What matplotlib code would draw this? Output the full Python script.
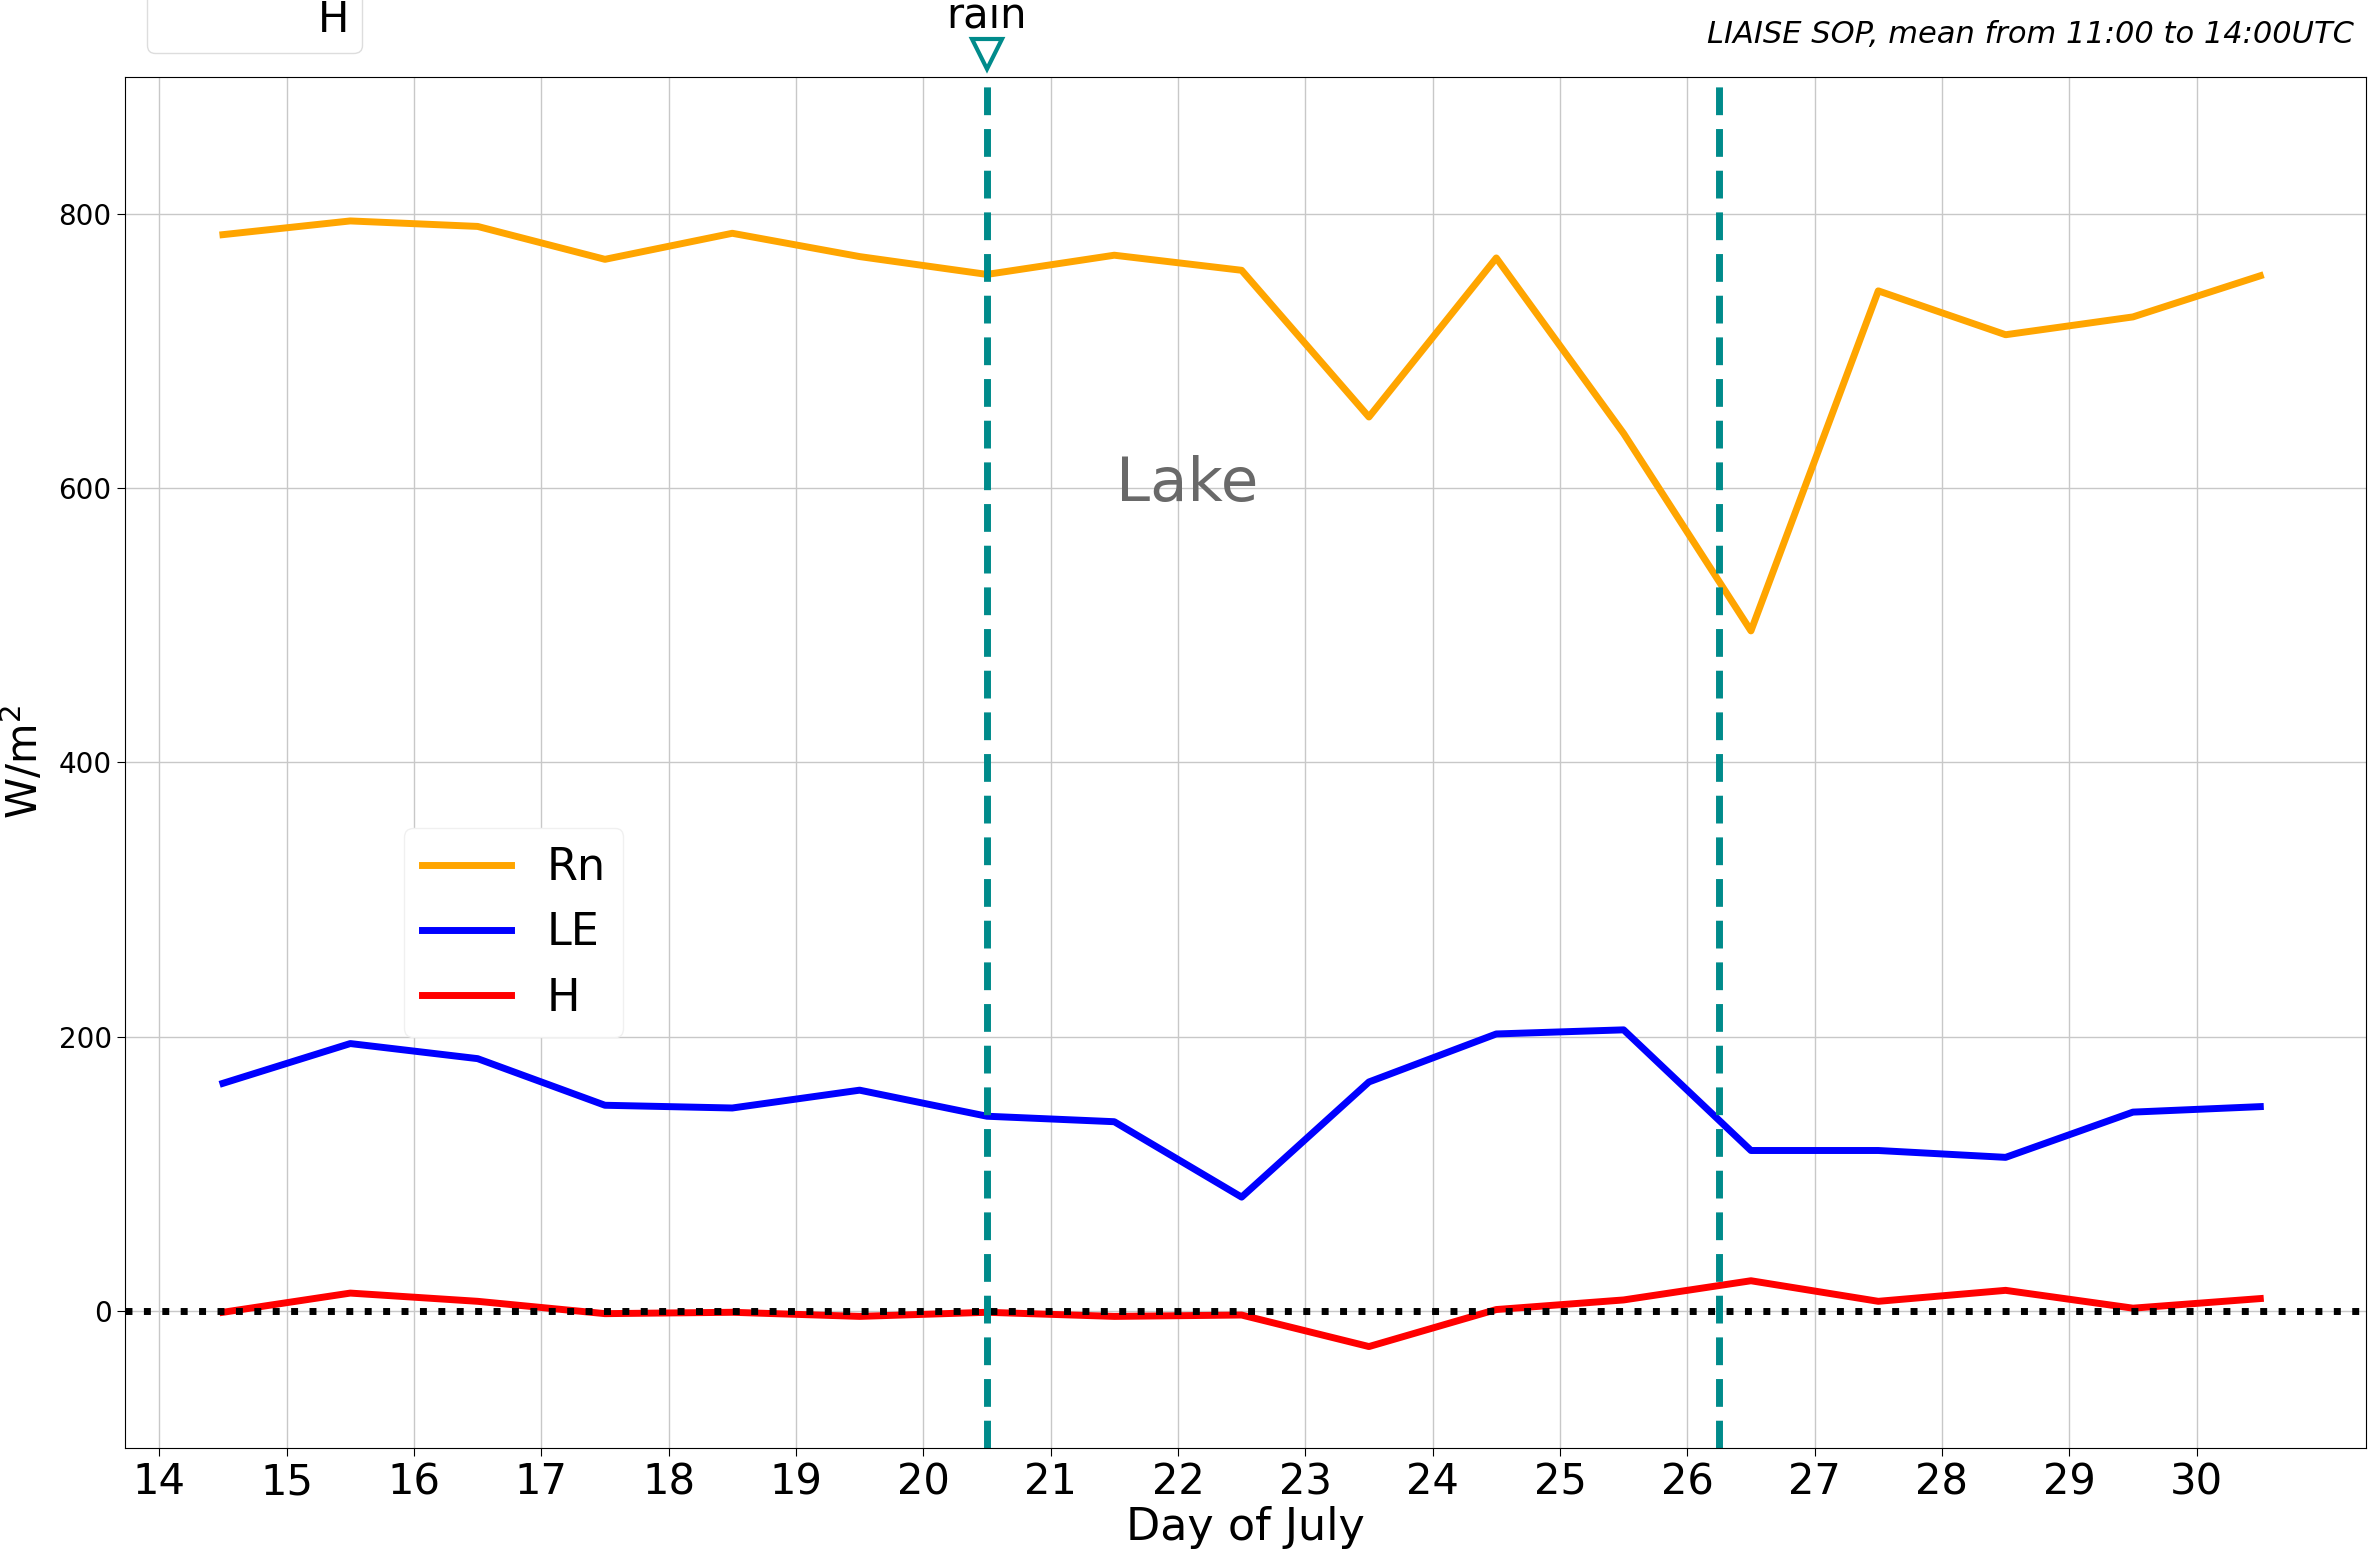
import matplotlib
matplotlib.use("Agg")
import matplotlib.pyplot as plt
from matplotlib.lines import Line2D

# Daily means (11:00-14:00 UTC) of surface energy fluxes over the lake, W/m2
days = [14.5, 15.5, 16.5, 17.5, 18.5, 19.5, 20.5, 21.5, 22.5,
        23.5, 24.5, 25.5, 26.5, 27.5, 28.5, 29.5, 30.5]
rn = [785, 795, 791, 767, 786, 769, 756, 770, 759,
      652, 768, 640, 496, 744, 712, 725, 755]
le = [166, 195, 184, 150, 148, 161, 142, 138, 83,
      167, 202, 205, 117, 117, 112, 145, 149]
h = [-1, 13, 7, -2, -1, -4, -1, -4, -3,
     -26, 1, 8, 22, 7, 15, 2, 9]
rain_days = [20.5, 26.25]
xticks = list(range(14, 31))
yticks = [0, 200, 400, 600, 800]

teal = "#008B8B"

fig = plt.figure(figsize=(23.7, 15.52), dpi=100)
ax = fig.add_axes([0.0527, 0.067, 0.9456, 0.8834])

ax.plot(days, rn, color="orange", lw=5, label="Rn")
ax.plot(days, le, color="blue", lw=5, label="LE")
ax.plot(days, h, color="red", lw=5, label="H")

ax.axhline(0, color="black", ls=":", lw=5)
for d in rain_days:
    ax.axvline(d, color=teal, ls="--", lw=5, dashes=(4, 2))

# rain marker and label above the axes
ax.plot([rain_days[0]], [917], marker="v", ms=22, mfc="white", mec=teal,
        mew=3, clip_on=False, ls="none")
ax.text(rain_days[0], 936, "rain", ha="center", va="baseline", fontsize=30,
        clip_on=False)

ax.text(22.07, 603, "Lake", ha="center", va="center", fontsize=44,
        color="dimgray")

ax.set_xlim(13.73, 31.33)
ax.set_ylim(-100, 900)
ax.set_xticks(xticks)
ax.set_yticks(yticks)
ax.tick_params(axis="x", labelsize=30, length=6)
ax.tick_params(axis="y", labelsize=20, length=6)
ax.grid(True, color="#c8c8c8", lw=1)
ax.set_xlabel("Day of July", fontsize=32, labelpad=2)
ax.set_ylabel("W/m$^2$", fontsize=30, labelpad=8)

ax.legend(loc="upper left", bbox_to_anchor=(0.1247, 0.452), fontsize=32,
          handlelength=2.0, framealpha=1.0, fancybox=True,
          edgecolor="#f0f0f0", borderaxespad=0)

fig.text(0.993, 0.987, "LIAISE SOP, mean from 11:00 to 14:00UTC",
         ha="right", va="top", fontsize=22, style="italic")

# top-left legend box, mostly beyond the figure edge
fig.legend(handles=[Line2D([], [], color="none")], labels=["H"],
           loc="lower left", bbox_to_anchor=(0.062, 1 - 53 / 1552),
           fontsize=30, handlelength=3.0, framealpha=1.0,
           edgecolor="#dddddd", borderpad=0.3, borderaxespad=0)

fig.savefig("out.png", dpi=100)
